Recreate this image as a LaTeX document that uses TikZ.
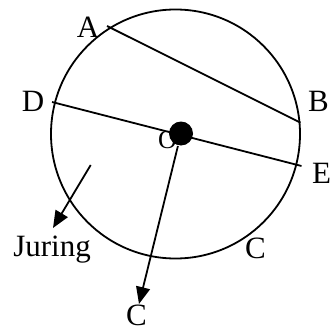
\documentclass[tikz,border=0pt]{standalone}
\usepackage{fontspec}
\setmainfont{Liberation Serif}
\usetikzlibrary{arrows.meta}
\begin{document}
\begin{tikzpicture}[x=1pt,y=-1pt, line width=1.8pt,
  lbl/.style={anchor=base, inner sep=0pt, font=\fontsize{31}{36}\selectfont},
  arr/.style={-{Triangle[length=17pt,width=14pt]}}]
\useasboundingbox (0,0) rectangle (331,332);
% circle
\draw (175.5,134) circle[radius=124.5];
% chord and diameter end points
\coordinate (pA) at (107,26);
\coordinate (pB) at (300.5,122.7);
\coordinate (pD) at (52,102);
\coordinate (pE) at (301.5,166);
\draw (pA) -- (pB);
\draw (pD) -- (pE);
% labels
\node[lbl] (lA) at (88,37) {A};
\node[lbl] (lB) at (318.5,111) {B};
\node[lbl] (lD) at (33,111) {D};
\node[lbl] (lE) at (321.5,183) {E};
\node[lbl] (lC) at (255.5,258) {C};
\node[lbl] (lJ) at (52,256) {Juring};
\node[lbl] (lCb) at (136.5,325) {C};
\node[lbl, font=\fontsize{26}{30}\selectfont] (lO) at (167.5,148) {O};
% centre dot
\node[circle, fill, inner sep=0pt, minimum size=24pt] (dot) at (181,133.5) {};
% arrows
\coordinate (tipC) at (139,304);
\draw[arr] (dot) -- (tipC);
\coordinate (jStart) at (90.7,165);
\coordinate (tipJ) at (53,228);
\draw[arr] (jStart) -- (tipJ);
\end{tikzpicture}
\end{document}
